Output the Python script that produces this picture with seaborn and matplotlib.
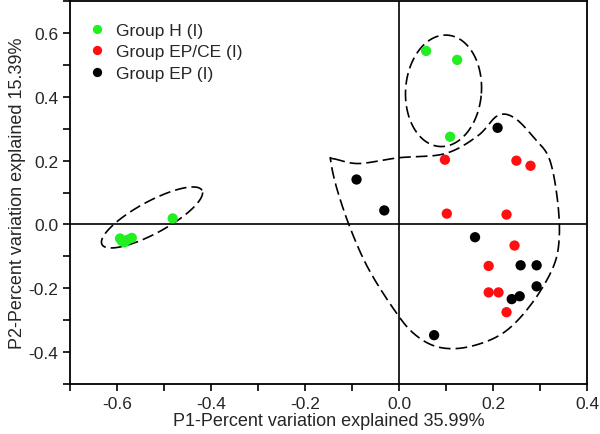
import numpy as np
import pandas as pd
import matplotlib
matplotlib.use("Agg")
import matplotlib.pyplot as plt
from matplotlib.ticker import MultipleLocator
import seaborn as sns

# PCA scores
h_x = [-0.594, -0.585, -0.578, -0.569, -0.590, -0.482, 0.057, 0.123, 0.108]
h_y = [-0.044, -0.056, -0.048, -0.042, -0.052, 0.019, 0.544, 0.516, 0.275]

epce_x = [0.097, 0.249, 0.279, 0.101, 0.228, 0.245, 0.190, 0.190, 0.211, 0.228]
epce_y = [0.203, 0.200, 0.184, 0.034, 0.031, -0.066, -0.130, -0.213, -0.213, -0.275]

ep_x = [0.209, -0.091, -0.032, 0.161, 0.258, 0.292, 0.292, 0.239, 0.256, 0.074]
ep_y = [0.303, 0.141, 0.044, -0.040, -0.128, -0.128, -0.194, -0.234, -0.225, -0.347]

groups = ["Group H (I)", "Group EP/CE (I)", "Group EP (I)"]
colors = ["#22ee22", "#ff0f0f", "#000000"]

# hand-drawn cluster outline (right group)
blob_x = [-0.140, -0.087, -0.002, 0.097, 0.167, 0.209, 0.245, 0.288, 0.319, 0.336,
          0.340, 0.326, 0.279, 0.220, 0.146, 0.082, 0.030, -0.013, -0.066, -0.104,
          -0.133, -0.146]
blob_y = [0.206, 0.191, 0.209, 0.222, 0.278, 0.341, 0.334, 0.269, 0.206, 0.081,
          -0.044, -0.138, -0.253, -0.341, -0.384, -0.384, -0.341, -0.263, -0.138, -0.013,
          0.113, 0.200]

df = pd.DataFrame({
    "x": h_x + epce_x + ep_x,
    "y": h_y + epce_y + ep_y,
    "group": [groups[0]] * len(h_x) + [groups[1]] * len(epce_x) + [groups[2]] * len(ep_x),
})

sns.set_style("ticks")
plt.rcParams["font.family"] = ["Liberation Sans", "DejaVu Sans"]

fig = plt.figure(figsize=(6, 4.35), dpi=100)
ax = fig.add_axes([0.117, 0.115, 0.862, 0.88])

PX_X, PX_Y = 471.0, 320.0  # pixels per data unit


def ellipse(cx, cy, a, b, ang):
    t = np.linspace(0, 2 * np.pi, 200)
    th = np.radians(ang)
    ex = cx + (a * np.cos(t) * np.cos(th) - b * np.sin(t) * np.sin(th)) / PX_X
    ey = cy + (a * np.cos(t) * np.sin(th) + b * np.sin(t) * np.cos(th)) / PX_Y
    return ex, ey


def closed_spline(xs, ys, n=20):
    P = np.column_stack([np.array(xs) * PX_X, np.array(ys) * PX_Y])
    m = len(P)
    out = []
    t = np.linspace(0, 1, n, endpoint=False)[:, None]
    for i in range(m):
        p0, p1, p2, p3 = P[i - 1], P[i], P[(i + 1) % m], P[(i + 2) % m]
        seg = 0.5 * ((2 * p1) + (-p0 + p2) * t + (2 * p0 - 5 * p1 + 4 * p2 - p3) * t ** 2
                     + (-p0 + 3 * p1 - 3 * p2 + p3) * t ** 3)
        out.append(seg)
    out = np.vstack(out + [out[0][:1]])
    return out[:, 0] / PX_X, out[:, 1] / PX_Y


dash = (0, (7, 3))
ex, ey = ellipse(-0.526, 0.022, 57, 16, 28.5)
ax.plot(ex, ey, color="black", lw=1.2, linestyle=dash)
ex, ey = ellipse(0.094, 0.419, 38, 56, -4)
ax.plot(ex, ey, color="black", lw=1.2, linestyle=dash)
bx, by = closed_spline(blob_x, blob_y)
ax.plot(bx, by, color="black", lw=1.2, linestyle=dash)

ax.axhline(0, color="black", lw=1.2, zorder=1)
ax.axvline(0, color="black", lw=1.2, zorder=1)

sns.scatterplot(data=df, x="x", y="y", hue="group", hue_order=groups,
                palette=colors, s=55, edgecolor="none", ax=ax, zorder=3)

ax.set_xlim(-0.7, 0.4)
ax.set_ylim(-0.5, 0.7)
ax.xaxis.set_major_locator(MultipleLocator(0.2))
ax.xaxis.set_minor_locator(MultipleLocator(0.1))
ax.yaxis.set_major_locator(MultipleLocator(0.2))
ax.yaxis.set_minor_locator(MultipleLocator(0.1))
ax.set_yticks([-0.4, -0.2, 0.0, 0.2, 0.4, 0.6])
ax.xaxis.set_major_formatter(plt.FuncFormatter(lambda v, p: f"{v:.1f}"))
ax.yaxis.set_major_formatter(plt.FuncFormatter(lambda v, p: f"{v:.1f}"))
ax.tick_params(which="both", direction="out", length=5, width=1.2, labelsize=12.5, color="black")
for sp in ax.spines.values():
    sp.set_visible(True)
    sp.set_linewidth(1.3)
    sp.set_color("black")

ax.set_xlabel("P1-Percent variation explained 35.99%", fontsize=13, labelpad=1)
ax.set_ylabel("P2-Percent variation explained 15.39%", fontsize=13, labelpad=2)

ax.legend(loc="upper left", bbox_to_anchor=(-0.012, 0.985), frameon=False, fontsize=12.5,
          handletextpad=0.1, labelspacing=0.38, borderaxespad=0.5, markerscale=0.9)

fig.savefig("out.png", dpi=100)
